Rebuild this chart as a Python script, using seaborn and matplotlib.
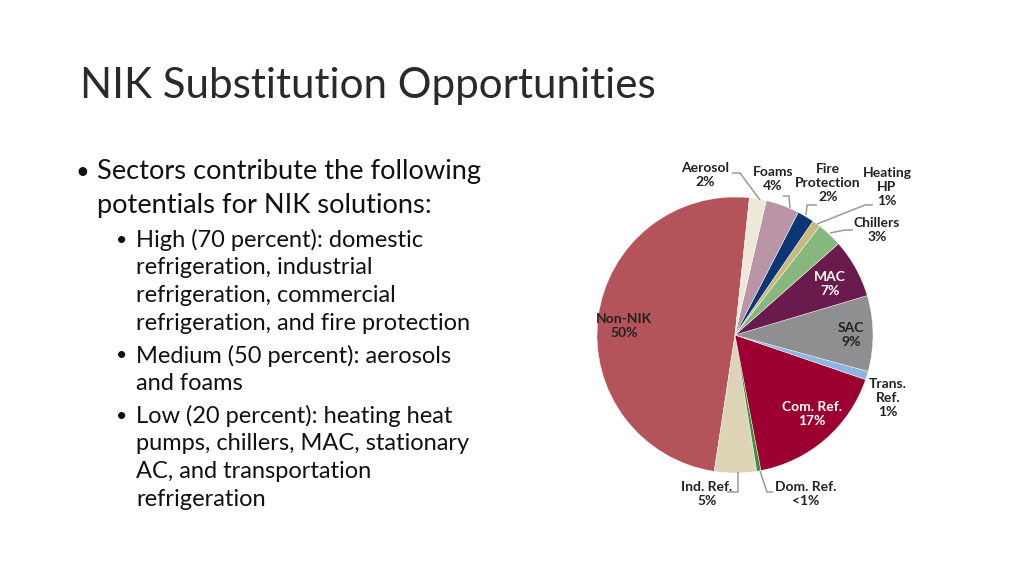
import numpy as np
import matplotlib
matplotlib.use("Agg")
import matplotlib.pyplot as plt
import seaborn as sns

sns.set_theme(style="white")
plt.rcParams["font.family"] = ["Lato", "DejaVu Sans"]

# sectors, counter-clockwise from the top
sectors = ["Non-NIK", "Ind. Ref.", "Dom. Ref.", "Com. Ref.", "Trans. Ref.", "SAC",
           "MAC", "Chillers", "Heating HP", "Fire Protection", "Foams", "Aerosol"]
shares = [50, 5, 0.5, 17, 1, 9, 7, 3, 1, 2, 4, 2]
share_text = ["50%", "5%", "<1%", "17%", "1%", "9%", "7%", "3%", "1%", "2%", "4%", "2%"]
colors = ["#b5535a", "#ddd4b6", "#3c8f3c", "#9c0030", "#8db4e2", "#8f8f91",
          "#6a1a4c", "#86b77c", "#c9b97d", "#0c3675", "#b995a5", "#eee8d6"]

title = "NIK Substitution Opportunities"
bullet_main = ["Sectors contribute the following", "potentials for NIK solutions:"]
bullet_sub = [
    ["High (70 percent): domestic", "refrigeration, industrial",
     "refrigeration, commercial", "refrigeration, and fire protection"],
    ["Medium (50 percent): aerosols", "and foams"],
    ["Low (20 percent): heating heat", "pumps, chillers, MAC, stationary",
     "AC, and transportation", "refrigeration"],
]

W, H = 1024, 576
fig = plt.figure(figsize=(W / 100, H / 100), dpi=100)
fig.patch.set_facecolor("white")

# slide text
fig.text(80 / W, 1 - 86 / H, title, fontsize=30.3, fontweight="normal",
         color="#2a2a2a", va="center", ha="left")

fig.text(76 / W, 1 - 172 / H, "•", fontsize=17, va="center", color="#111")
fig.text(97 / W, 1 - 172 / H, bullet_main[0], fontsize=19.6, va="center", color="#111")
fig.text(97 / W, 1 - 205 / H, bullet_main[1], fontsize=19.6, va="center", color="#111")
y = 240
for group in bullet_sub:
    fig.text(116 / W, 1 - y / H, "•", fontsize=14, va="center", color="#111")
    for line in group:
        fig.text(136 / W, 1 - y / H, line, fontsize=17, va="center", color="#111")
        y += 27.7
    y += 5

# pie
cx, cy, r = 735, 335, 138
ax = fig.add_axes([(cx - 2 * r) / W, (H - cy - 2 * r) / H, 4 * r / W, 4 * r / H])
ax.pie(shares, colors=colors, startangle=84, counterclock=True, radius=1,
       wedgeprops=dict(edgecolor="white", linewidth=0.3))
ax.set_xlim(-2, 2)
ax.set_ylim(-2, 2)
ax.set_aspect("equal")
ax.axis("off")


def P(px, py):
    return (px - cx) / r, (cy - py) / r


label_pos = {
    "Non-NIK": (624, 326), "Ind. Ref.": (707, 494), "Dom. Ref.": (806, 494),
    "Com. Ref.": (812, 414), "Trans. Ref.": (888, 398), "SAC": (851, 335),
    "MAC": (830, 284), "Chillers": (877, 230), "Heating HP": (887, 187),
    "Fire Protection": (828, 183), "Foams": (773, 179), "Aerosol": (705, 175),
}
white_text = {"MAC", "Com. Ref."}
label_text = {"Trans. Ref.": "Trans.\nRef.", "Heating HP": "Heating\nHP",
              "Fire Protection": "Fire\nProtection"}
for name, pct in zip(sectors, share_text):
    x, yy = P(*label_pos[name])
    ax.text(x, yy, label_text.get(name, name) + "\n" + pct, ha="center", va="center",
            fontsize=10, fontweight="bold", linespacing=1.2,
            color="white" if name in white_text else "#222222")

# leader lines
leaders = [
    [(732, 173), (740, 173), (760, 200)],
    [(783, 196), (789, 196), (790, 208)],
    [(817, 205), (807, 205), (806, 215)],
    [(873, 205), (865, 205), (817, 224)],
    [(853, 230), (845, 230), (830, 233)],
    [(727, 492), (738, 492), (738, 472)],
    [(773, 492), (767, 492), (760, 471)],
]
for seg in leaders:
    pts = np.array([P(*p) for p in seg])
    ax.plot(pts[:, 0], pts[:, 1], color="#9a9a9a", linewidth=1.1, solid_capstyle="butt")

fig.savefig("out.png", dpi=100, facecolor="white")
